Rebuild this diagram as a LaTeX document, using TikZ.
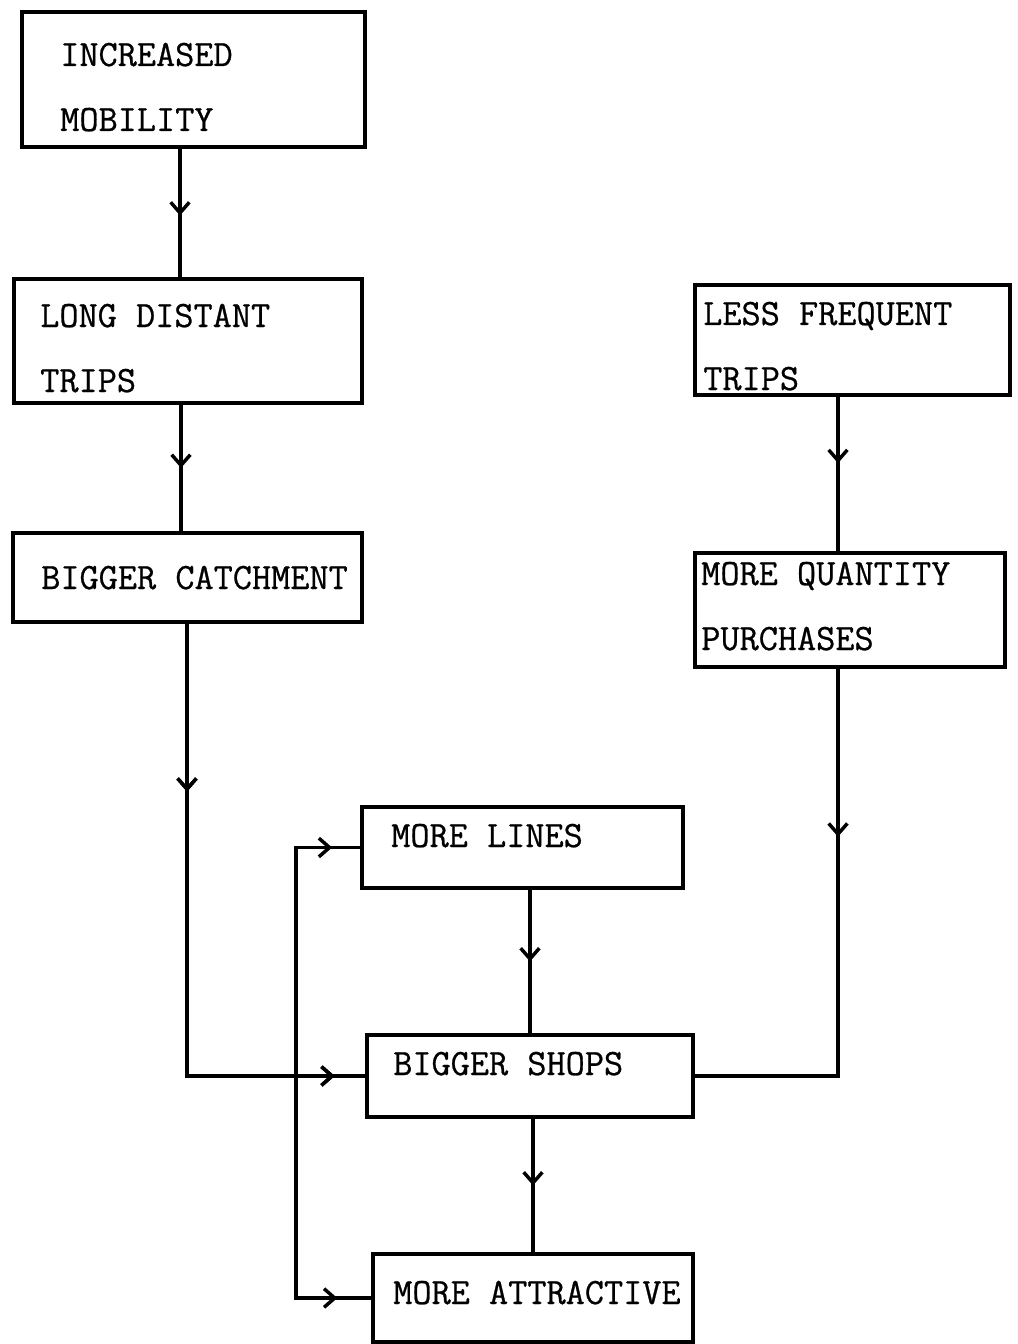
\documentclass[tikz,border=0pt]{standalone}
\usepackage{fontspec}
\newfontfamily\tw{Latin Modern Mono}[FakeBold=0.7]
\usetikzlibrary{arrows.meta,decorations.markings,fit}
\tikzset{
  x=0.75pt, y=-0.75pt,
  box/.style={draw, line width=2.6pt, inner sep=0pt, rectangle},
  txt/.style={font=\tw\fontsize{27.9}{33}\selectfont, inner sep=0pt, anchor=base west},
  conn/.style={line width=2.6pt},
  barb/.tip={Straight Barb[length=8pt,width=14pt]},
  tipat/.style={postaction={decorate},
    decoration={markings, mark=at position #1 with {\arrow{barb}}}},
}
\begin{document}
\begin{tikzpicture}
\useasboundingbox (0,0) rectangle (1017,1344);
% boxes
\node[box, fit={(22,12) (365,147)}] (b1) {};
\node[box, fit={(14,279) (362,403)}] (b2) {};
\node[box, fit={(13,533) (362,622)}] (b3) {};
\node[box, fit={(695,285) (1010,395)}] (b4) {};
\node[box, fit={(695,553) (1005,667)}] (b5) {};
\node[box, fit={(362,807) (683,888)}] (b6) {};
\node[box, fit={(367,1035) (693,1117)}] (b7) {};
\node[box, fit={(373,1254) (693,1342)}] (b8) {};
% texts
\node[txt] (t1a) at (60,66) {INCREASED};
\node[txt] (t1b) at (60,131) {MOBILITY};
\node[txt] (t2a) at (40,327) {LONG DISTANT};
\node[txt] (t2b) at (40,392) {TRIPS};
\node[txt] (t3) at (41,589) {BIGGER CATCHMENT};
\node[txt] (t4a) at (703,325) {LESS FREQUENT};
\node[txt] (t4b) at (703,390) {TRIPS};
\node[txt] (t5a) at (701,585) {MORE QUANTITY};
\node[txt] (t5b) at (701,650) {PURCHASES};
\node[txt] (t6) at (391,847) {MORE LINES};
\node[txt] (t7) at (393,1075) {BIGGER SHOPS};
\node[txt] (t8) at (393,1304) {MORE ATTRACTIVE};
% columns
\coordinate (xa) at (180,0);
\coordinate (xb) at (181,0);
\coordinate (xc) at (187,0);
\coordinate (xd) at (838,0);
\coordinate (xe) at (530,0);
\coordinate (xf) at (533,0);
\coordinate (lm) at (296,1070);
% connectors
\draw[conn, tipat=0.52] (b1.south -| xa) -- (b2.north -| xa);
\draw[conn, tipat=0.5] (b2.south -| xb) -- (b3.north -| xb);
\draw[conn, tipat=126pt, tipat=450pt] (b3.south -| xc) |- (b7.west);
\draw[conn, tipat=0.43] (b4.south -| xd) -- (b5.north -| xd);
\draw[conn, tipat=126pt] (b5.south -| xd) |- (b7.east);
\draw[conn, tipat=0.5] (b6.south -| xe) -- (b7.north -| xe);
\draw[conn, tipat=0.5] (b7.south -| xf) -- (b8.north -| xf);
\draw[conn, tipat=194pt] (lm) |- (b6.west);
\draw[conn, tipat=202pt] (lm) |- (b8.west);
\end{tikzpicture}
\end{document}
